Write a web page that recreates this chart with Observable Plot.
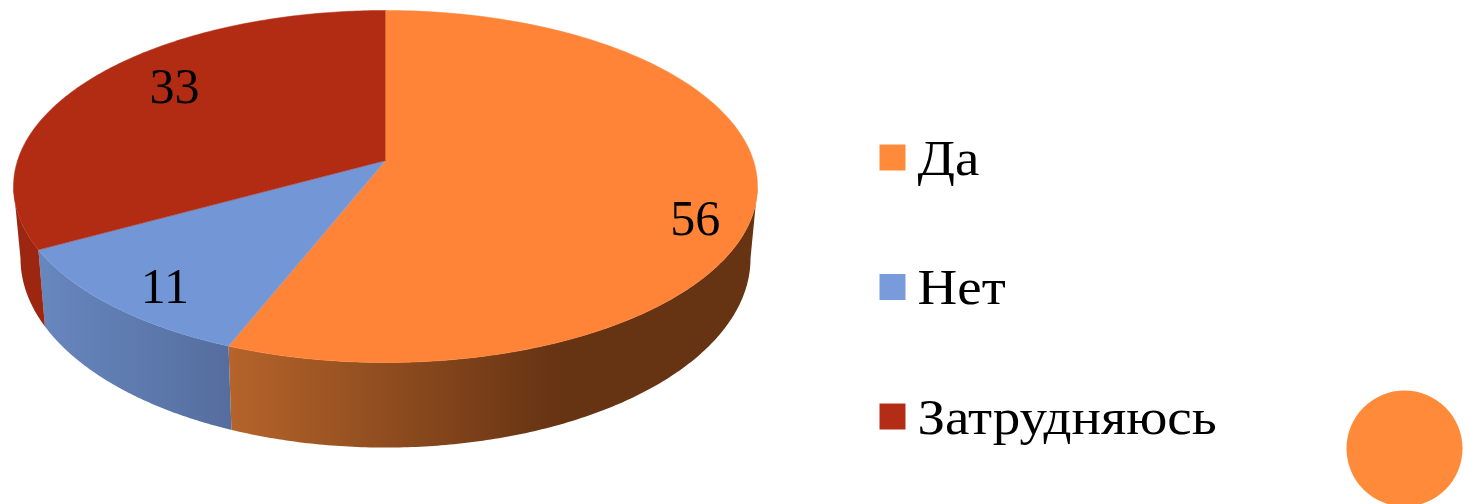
<!DOCTYPE html>
<html><head><meta charset="utf-8">
<style>html,body{margin:0;padding:0;background:#fff}svg{display:block}</style>
<script src="https://cdn.jsdelivr.net/npm/d3@7"></script>
<script src="https://cdn.jsdelivr.net/npm/@observablehq/plot@0.6"></script>
</head><body><div id="c"></div>
<script>
const categories = ["Да", "Нет", "Затрудняюсь"];
const values = [56, 11, 33];

const topColors = ["#FF8438", "#7396D7", "#B12C13"];
const legendColors = ["#FF8B3A", "#7A9BDB", "#B32D16"];
const nudge = [[14, 32], [-7, 13], [28, -7]];
const FONT = "'Liberation Serif', serif";

// Perspective view of a disc: top rim and bottom rim
const k = -0.1477;
const rimTop = {cx: 385, cy: 160, a: 367.9, b: 172.2};
const rimBottom = {cx: 385, cy: 230, a: 361, b: 185};
const project = (rim, t, r = 1) => {
  const ux = r * Math.sin(t), uy = -r * Math.cos(t), w = 1 + k * uy;
  return {x: rim.cx + rim.a * ux / w, y: rim.cy + rim.b * uy / w};
};
const total = d3.sum(values);
const cum = d3.cumsum(values);
const slices = categories.map((c, i) => ({
  name: c, value: values[i],
  t0: ((cum[i] - values[i]) / total) * 2 * Math.PI,
  t1: (cum[i] / total) * 2 * Math.PI
}));
const arcBetween = (rim, t0, t1) => d3.range(0, 181).map(i => project(rim, t0 + (t1 - t0) * i / 180));
const face = s => [{x: rimTop.cx, y: rimTop.cy}, ...arcBetween(rimTop, s.t0, s.t1)];
// The wall is only the part in front of the two silhouette angles
const silRight = Math.acos(k), silLeft = 2 * Math.PI - silRight;
const wall = s => {
  const a = Math.max(s.t0, silRight), b = Math.min(s.t1, silLeft);
  return [...arcBetween(rimTop, a, b), ...arcBetween(rimBottom, a, b).reverse()];
};

const sideFills = ["url(#side0)", "url(#side1)", "#9C2610"];
const labels = slices.map((s, i) => {
  const p = project(rimTop, (s.t0 + s.t1) / 2, 0.8);
  return {x: p.x + nudge[i][0], y: p.y + nudge[i][1], text: String(s.value)};
});
const legend = categories.map((c, i) => ({name: c, color: legendColors[i], y: 157 + 129.5 * i}));

const chart = Plot.plot({
  width: 1466, height: 504, margin: 0,
  x: {domain: [0, 1466], range: [0, 1466], axis: null},
  y: {domain: [0, 504], range: [0, 504], axis: null},
  style: {background: "#fff"},
  marks: [
    ...slices.map((s, i) => Plot.line(wall(s), {x: "x", y: "y", fill: sideFills[i], stroke: "none"})),
    ...slices.map((s, i) => Plot.line(face(s), {x: "x", y: "y", fill: topColors[i], stroke: topColors[i], strokeWidth: 0.5})),
    Plot.text(labels, {x: "x", y: "y", text: "text", fontSize: 50, fontFamily: FONT, fill: "#000"}),
    Plot.dot(legend, {x: 892, y: "y", symbol: "square", r: 14.67, fill: "color", stroke: "none"}),
    Plot.text(legend, {x: 917, y: d => d.y + 17, text: "name", textAnchor: "start", lineAnchor: "bottom", fontSize: 50, fontFamily: FONT, fill: "#000", className: "legend-text"}),
    Plot.dot([{x: 1404, y: 448}], {x: "x", y: "y", r: 58, fill: "#FF8B3A", stroke: "none"})
  ]
});
const defs = d3.select(chart).insert("defs", ":first-child");
const grad = (id, x1, x2, stops) => {
  const g = defs.append("linearGradient").attr("id", id).attr("gradientUnits", "userSpaceOnUse")
    .attr("x1", x1).attr("x2", x2).attr("y1", 0).attr("y2", 0);
  stops.forEach(([o, c]) => g.append("stop").attr("offset", o).attr("stop-color", c));
};
grad("side0", 229, 760, [[0, "#B5642A"], [0.62, "#663313"], [1, "#663313"]]);
grad("side1", 38, 232, [[0, "#6787BF"], [1, "#556D9E"]]);
document.getElementById("c").appendChild(chart);
// The original face is wider than any installed serif: widen the legend glyphs a little
d3.select(chart).selectAll(".legend-text text").each(function () {
  this.setAttribute("textLength", this.getComputedTextLength() * 1.1);
  this.setAttribute("lengthAdjust", "spacingAndGlyphs");
});
</script></body></html>
